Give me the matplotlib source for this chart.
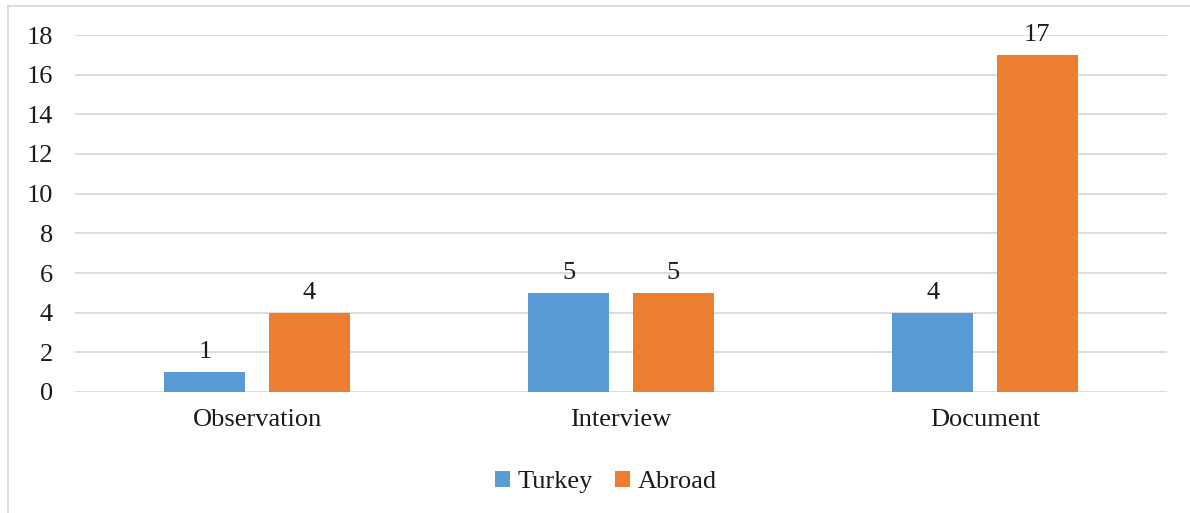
import matplotlib.pyplot as plt
import numpy as np
from matplotlib.lines import Line2D

plt.rcParams['font.family'] = ['Liberation Serif', 'DejaVu Serif']

categories = ["Observation", "Interview", "Document"]
turkey = [1, 5, 4]
abroad = [4, 5, 17]
series_names = ["Turkey", "Abroad"]
colors = ["#5B9BD5", "#ED7D31"]
yticks = list(range(0, 19, 2))

W, H, DPI = 1190, 513, 100
fig = plt.figure(figsize=(W / DPI, H / DPI), dpi=DPI)

# plot area in pixel coordinates
left, right, top, bottom = 75, 1167, 35, 392
ax = fig.add_axes([left / W, 1 - bottom / H, (right - left) / W, (bottom - top) / H])

x = np.arange(len(categories))
bw = 0.2225
off = 0.143
for vals, name, c, o in [(turkey, series_names[0], colors[0], -off),
                         (abroad, series_names[1], colors[1], off)]:
    bars = ax.bar(x + o, vals, width=bw, color=c, label=name, zorder=3)
    for b, v in zip(bars, vals):
        ax.text(b.get_x() + b.get_width() / 2, v + 0.45, str(v),
                ha="center", va="bottom", fontsize=19, color="#1a1a1a")

ax.set_xlim(-0.5, len(categories) - 0.5)
ax.set_ylim(0, 18)
ax.set_yticks(yticks)
ax.set_xticks(x)
ax.set_xticklabels(categories)
ax.tick_params(axis="both", length=0, labelsize=19, colors="#1a1a1a")
ax.tick_params(axis="y", pad=16)
ax.tick_params(axis="x", pad=12)
ax.grid(axis="y", color="#d9d9d9", linewidth=1.3, zorder=0)
for s in ax.spines.values():
    s.set_visible(False)

leg = fig.legend(loc="center", bbox_to_anchor=(606 / W, 1 - 482 / H), ncol=2,
                 frameon=False, fontsize=19, handlelength=0.55, handleheight=0.55,
                 handletextpad=0.3, columnspacing=0.85, labelcolor="#1a1a1a")

# light frame along the top and left edges of the chart
frame = dict(transform=fig.transFigure, color="#d9d9d9", linewidth=1.3)
fig.add_artist(Line2D([8 / W, 1], [1 - 6 / H, 1 - 6 / H], **frame))
fig.add_artist(Line2D([8 / W, 8 / W], [0, 1 - 6 / H], **frame))

fig.savefig("out.png", dpi=DPI)
